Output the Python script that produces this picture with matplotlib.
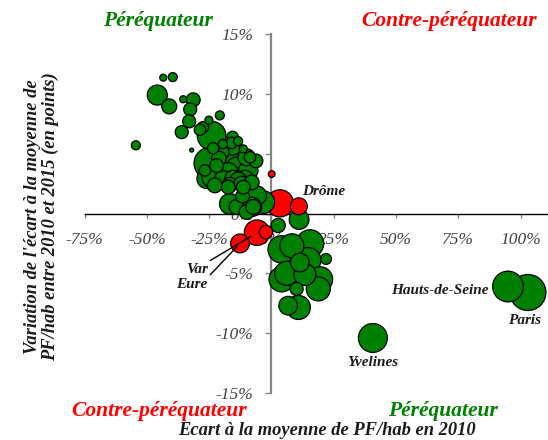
import numpy as np
import matplotlib.pyplot as plt

# écart à la moyenne de PF/hab en 2010 (%), variation 2010-2015 (points), population (milliers)
# les six départements nommés sont en tête de liste
noms = ['Paris', 'Hauts-de-Seine', 'Yvelines', 'Drôme', 'Var', 'Eure']

ecart_2010 = [102.9, 94.9, 40.7, 11.0, -5.8, -12.6,
              # nuage des péréquateurs à écart négatif
              -43.4, -39.6, -45.8, -41.0, -35.4, -31.4, -32.6, -20.7, -33.0, -36.0,
              -25.1, -54.4, -32.0, -24.0, -15.6, -27.5, -19.5, -23.4, -15.3, -11.3,
              -10.0, -16.7, -24.7, -22.0, -26.7, -14.0, -9.3, -20.7, -26.0, -15.3,
              -10.6, -22.7, -16.7, -12.0, -6.2, -16.7, -11.6, -14.0, -5.9, -3.3,
              -7.9, -10.0, -28.7, -16.0, -13.4, -8.6, -20.0, -21.1, -17.3, -24.0,
              -19.3, -13.3, -7.9, -17.3, -11.3, -12.0, -7.3,
              # péréquateurs à écart positif
              11.1, 2.7, 4.1, 6.1, 4.1, 15.5, 21.9, 14.8, 19.5, 18.8, 10.1, 6.7,
              10.8, 11.4, 8.2, 13.4,
              # contre-péréquateurs non nommés
              0.1, 3.4, -2.2]

variation = [-6.6, -6.1, -10.4, 0.6, -1.6, -2.5,
             11.35, 11.4, 9.9, 8.95, 9.55, 9.5, 8.7, 8.2, 7.7, 6.8,
             7.8, 5.7, 5.3, 6.5, 6.4, 7.2, 5.8, 5.45, 5.5, 5.4,
             4.7, 4.7, 4.2, 4.0, 3.6, 3.85, 3.6, 3.2, 2.9, 2.9,
             2.9, 2.35, 2.4, 2.5, 4.4, 0.8, 1.45, 0.55, 1.5, 0.95,
             0.55, 0.13, 7.0, 5.9, 6.05, 4.7, 5.1, 4.6, 3.45, 3.0,
             2.75, 2.75, 2.6, 2.2, 2.2, 3.7, 0.55,
             -0.5, -1.0, -3.0, -5.0, -5.5, -2.5, -3.8, -3.9, -5.5, -6.3, -6.3, -7.7,
             -7.85, -4.1, -2.7, -5.1,
             3.3, 0.85, -1.55]

population = [2200, 1600, 1420, 490, 1100, 600,
              83, 138, 680, 380, 83, 330, 287, 138, 287, 287,
              110, 138, 27, 1400, 220, 220, 140, 220, 370, 110,
              490, 720, 1700, 320, 220, 720, 640, 640, 640, 490,
              490, 370, 370, 370, 320, 720, 320, 370, 640, 880,
              640, 370, 220, 220, 140, 220, 370, 370, 640, 640,
              640, 490, 370, 320, 320, 880, 370,
              660, 340, 1270, 980, 1080, 1270, 200, 1080, 1080, 980, 290, 590,
              980, 590, 980, 820,
              77, 1250, 300]

x = np.array(ecart_2010)
y = np.array(variation)
pop = np.array(population)

# vert = péréquateur (écart et variation de signes opposés), rouge sinon
couleurs = np.where(x * y < 0, '#008000', '#ff0000')

# diamètre en pixels proportionnel à la racine de la population
diam_px = 36 * np.sqrt(pop / 2200)
tailles = (diam_px * 72 / 100) ** 2

ordre = np.argsort(-pop, kind='stable')

plt.rcParams['font.family'] = ['Liberation Serif', 'DejaVu Serif']

fig = plt.figure(figsize=(5.48, 4.40), dpi=100)
ax = fig.add_axes([0.1542, 0.1068, 0.846, 0.8159])

ax.scatter(x[ordre], y[ordre], s=tailles[ordre], c=couleurs[ordre],
           edgecolors='black', linewidths=0.9, zorder=3)

ax.set_xlim(-75, 111)
ax.set_ylim(-15, 15)

for s in ['top', 'right']:
    ax.spines[s].set_visible(False)
ax.spines['left'].set_position(('data', 0))
ax.spines['bottom'].set_position(('data', 0))
ax.spines['left'].set_color('#868686')
ax.spines['left'].set_linewidth(1.6)
ax.spines['bottom'].set_color('black')
ax.spines['bottom'].set_linewidth(1.0)
ax.xaxis.set_zorder(1)
ax.yaxis.set_zorder(1)

xt = np.arange(-75, 101, 25)
yt = np.arange(-15, 16, 5)
ax.set_xticks(xt)
ax.set_xticklabels([f'{v}%' for v in xt])
ax.set_yticks(yt)
ax.set_yticklabels([f'{v}%' for v in yt])
ax.tick_params(axis='x', direction='out', length=3, width=1, color='#868686',
               labelcolor='#404040', labelsize=12.5, pad=10)
ax.tick_params(axis='y', direction='out', length=4, width=1, color='#868686',
               labelcolor='#404040', labelsize=12.5, pad=9)
for lab in ax.get_xticklabels() + ax.get_yticklabels():
    lab.set_fontstyle('italic')

# étiquettes des départements
lab_style = dict(fontsize=11, fontweight='bold', fontstyle='italic', color='#1a1a1a', zorder=4)
ax.text(101.7, -8.95, noms[0], ha='center', va='center', **lab_style)
ax.text(87.0, -6.4, noms[1], ha='right', va='center', **lab_style)
ax.text(40.7, -12.45, noms[2], ha='center', va='center', **lab_style)
ax.text(12.2, 1.84, noms[3], ha='left', va='center', **lab_style)
ax.annotate(noms[4], xy=(x[4], y[4]), xytext=(-29.9, -4.7), ha='center', va='center',
            arrowprops=dict(arrowstyle='-', color='black', lw=1, relpos=(0.9, 1),
                            shrinkA=0, shrinkB=5), **lab_style)
ax.annotate(noms[5], xy=(x[5], y[5]), xytext=(-31.9, -5.9), ha='center', va='center',
            arrowprops=dict(arrowstyle='-', color='black', lw=1, relpos=(1, 1),
                            shrinkA=0, shrinkB=3), **lab_style)

# libellés des quadrants et des axes
quad = dict(fontsize=15.5, fontweight='bold', fontstyle='italic', ha='center', va='center')
fig.text(0.288, 0.952, 'Péréquateur', color='#008000', **quad)
fig.text(0.819, 0.952, 'Contre-péréquateur', color='#ff0000', **quad)
fig.text(0.290, 0.066, 'Contre-péréquateur', color='#ff0000', **quad)
fig.text(0.808, 0.066, 'Péréquateur', color='#008000', **quad)

axl = dict(fontsize=13.3, fontweight='bold', fontstyle='italic', color='#1a1a1a',
           ha='center', va='center')
fig.text(0.597, 0.022, 'Ecart à la moyenne de PF/hab en 2010', **axl)
fig.text(0.060, 0.507, "Variation de l'écart à la moyenne de", rotation=90, **axl)
fig.text(0.091, 0.507, 'PF/hab entre 2010 et 2015 (en points)', rotation=90, **axl)

fig.savefig('out.png', dpi=100)
